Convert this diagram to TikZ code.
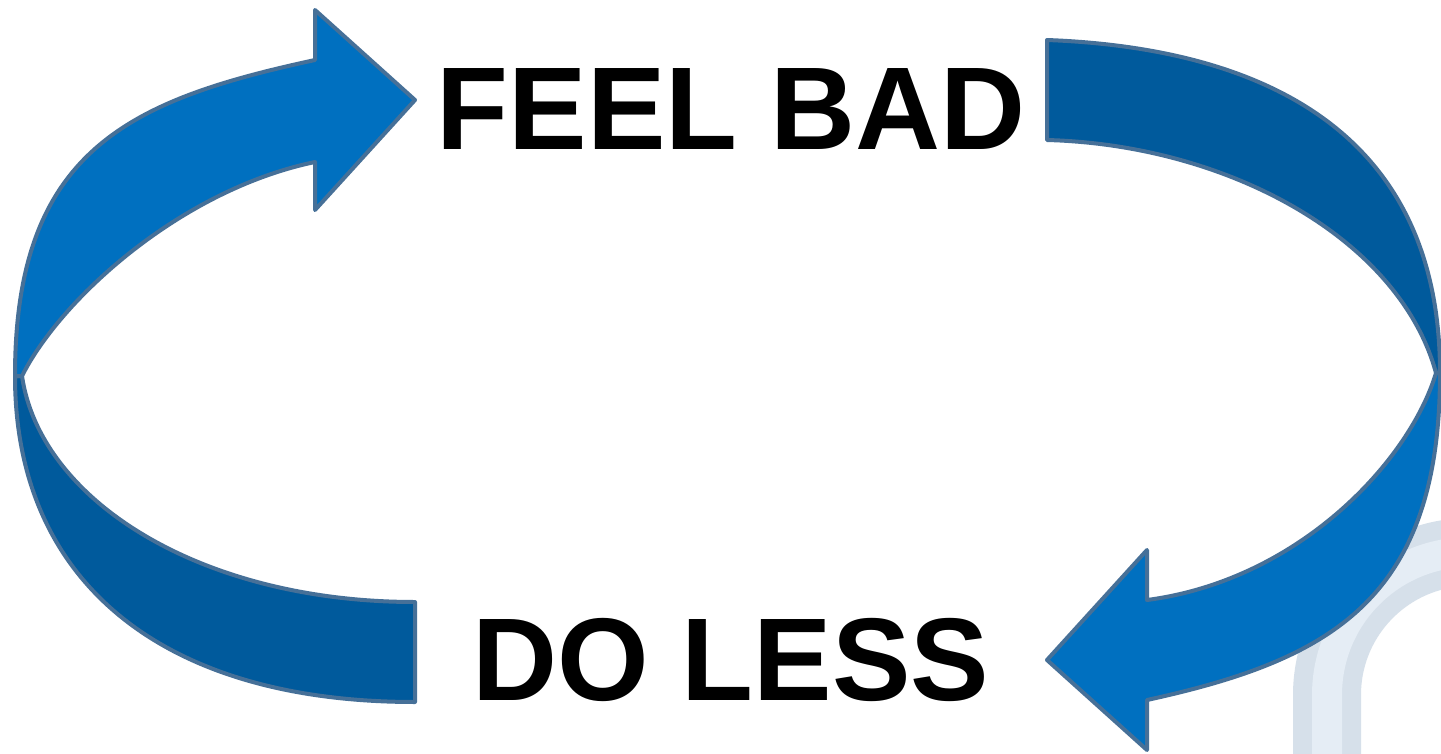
\documentclass[tikz,border=0pt]{standalone}
\usepackage{fontspec}
\setmainfont{Liberation Sans}
\definecolor{lightblue}{RGB}{0,112,192}
\definecolor{darkblue}{RGB}{0,90,156}
\definecolor{edgeblue}{RGB}{70,112,152}
\definecolor{ghostdark}{RGB}{214,224,234}
\definecolor{ghostlight}{RGB}{229,237,245}
\begin{document}
\begin{tikzpicture}[x=0.02cm,y=-0.02cm,
  band/.style={draw=edgeblue,line width=0.08cm,line join=round},
  lbl/.style={font=\fontsize{67}{80}\selectfont\bfseries, anchor=base, inner sep=0pt}]
\useasboundingbox (0,0) rectangle (1441,754);
\fill[white] (0,0) rectangle (1441,754);
% faint ring in the corner
\begin{scope}
\clip (1250,480) rectangle (1441,754);
\draw[ghostdark, line width=1.36cm] (1327,760) -- (1327,695) arc[start angle=180, end angle=300, radius=143];
\draw[ghostlight, line width=0.6cm] (1327,760) -- (1327,695) arc[start angle=180, end angle=300, radius=143];
\end{scope}
% right arrow: dark upper band
\draw[band, fill=darkblue] (1047,40) .. controls (1260,48) and (1440,130) .. (1440,373)
  -- (1436,373) .. controls (1400,240) and (1230,145) .. (1047,140) -- cycle;
% right arrow: light lower band with head
\draw[band, fill=lightblue] (1436,373) .. controls (1410,460) and (1300,580) .. (1147,600)
  -- (1147,550) -- (1047,660) -- (1147,750) -- (1147,700)
  .. controls (1330,660) and (1440,600) .. (1440,373) -- cycle;
% left arrow: dark lower band
\draw[band, fill=darkblue] (22,376) .. controls (40,500) and (200,602) .. (415,602)
  -- (415,702) .. controls (160,702) and (15,580) .. (15,376) -- cycle;
% left arrow: light upper band with head
\draw[band, fill=lightblue] (22,376) .. controls (60,300) and (180,190) .. (315,162)
  -- (315,210) -- (415,100) -- (315,10) -- (315,60)
  .. controls (130,100) and (15,150) .. (15,376) -- cycle;
% labels
\node[lbl] (feelbad) at (731,149) {FEEL BAD};
\node[lbl] (doless) at (731,700) {DO LESS};
\end{tikzpicture}
\end{document}
